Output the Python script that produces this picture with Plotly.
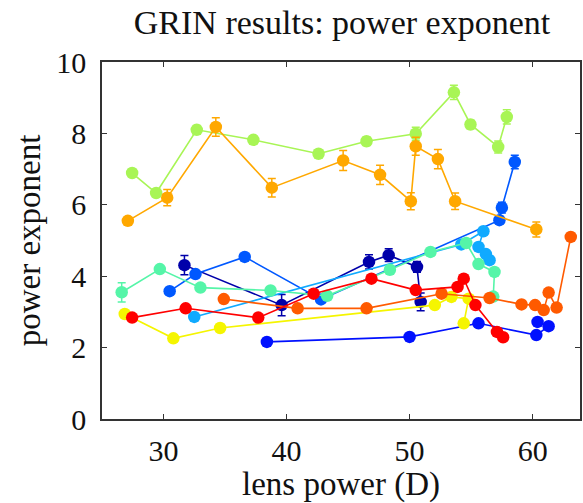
import plotly.graph_objects as go

# ---- data ----
navy_x = [31.7, 39.6, 46.7, 48.3, 50.6, 50.9]
navy_y = [4.31, 3.19, 4.40, 4.59, 4.26, 3.28]
navy_e = [0.27, 0.30, 0.20, 0.18, 0.15, 0.25]

blue_x = [38.4, 50.0, 55.6, 60.3, 61.3, 60.4]
blue_y = [2.16, 2.30, 2.68, 2.35, 2.60, 2.72]
blue_e = [0.08, 0.08, 0.08, 0.08, 0.08, 0.08]

mblue_x = [30.5, 32.6, 36.6, 42.8, 57.3, 57.5, 58.55]
mblue_y = [3.58, 4.06, 4.54, 3.35, 5.57, 5.92, 7.20]
mblue_e = [0.08, 0.08, 0.08, 0.08, 0.10, 0.15, 0.19]

lblue_x = [32.5, 54.2, 56.0, 55.6, 56.2, 56.5]
lblue_y = [2.86, 4.89, 5.26, 4.82, 4.62, 4.45]
lblue_e = [0.08, 0.08, 0.08, 0.08, 0.08, 0.08]

aqua_x = [26.6, 29.7, 33.0, 38.7, 43.3, 48.4, 51.7, 54.6, 55.6, 56.9, 56.8]
aqua_y = [3.55, 4.20, 3.68, 3.60, 3.45, 4.18, 4.68, 4.93, 4.34, 4.12, 3.43]
aqua_e = [0.27, 0.08, 0.08, 0.08, 0.08, 0.08, 0.08, 0.08, 0.08, 0.08, 0.08]

lime_x = [27.45, 29.4, 32.7, 37.3, 42.6, 46.5, 50.5, 53.6, 54.95, 57.2, 57.9]
lime_y = [6.89, 6.33, 8.10, 7.82, 7.43, 7.78, 7.99, 9.15, 8.25, 7.62, 8.46]
lime_e = [0.10, 0.10, 0.12, 0.10, 0.10, 0.12, 0.18, 0.20, 0.12, 0.17, 0.20]

yellow_x = [26.85, 30.8, 34.6, 52.05, 53.4, 54.8, 54.4]
yellow_y = [2.94, 2.26, 2.55, 3.19, 3.42, 3.37, 2.68]
yellow_e = [0.08, 0.08, 0.08, 0.08, 0.08, 0.08, 0.08]

orange_x = [27.1, 30.3, 34.25, 38.8, 44.6, 47.6, 50.1, 50.5, 52.3, 53.7, 60.3]
orange_y = [5.55, 6.20, 8.18, 6.48, 7.24, 6.84, 6.10, 7.64, 7.28, 6.10, 5.31]
orange_e = [0.10, 0.23, 0.26, 0.26, 0.28, 0.27, 0.24, 0.25, 0.27, 0.23, 0.21]

ored_x = [34.9, 40.9, 46.5, 52.6, 56.5, 59.1, 60.2, 60.9, 61.3, 61.95, 63.1]
ored_y = [3.36, 3.10, 3.10, 3.51, 3.39, 3.21, 3.19, 3.05, 3.54, 3.12, 5.10]
ored_e = [0.08, 0.08, 0.08, 0.08, 0.08, 0.08, 0.08, 0.08, 0.08, 0.08, 0.08]

red_x = [27.45, 31.8, 37.7, 42.2, 46.9, 50.5, 53.9, 54.4, 55.35, 57.1, 57.6]
red_y = [2.84, 3.10, 2.84, 3.51, 3.93, 3.61, 3.70, 3.93, 3.19, 2.44, 2.29]
red_e = [0.08, 0.08, 0.08, 0.08, 0.08, 0.08, 0.08, 0.08, 0.08, 0.08, 0.08]

x_ticks = [30, 40, 50, 60]
y_ticks = [0, 2, 4, 6, 8, 10]

series = [
    (navy_x, navy_y, navy_e, "#0000AA"),
    (blue_x, blue_y, blue_e, "#0010FF"),
    (mblue_x, mblue_y, mblue_e, "#0058FF"),
    (lblue_x, lblue_y, lblue_e, "#10AAFF"),
    (aqua_x, aqua_y, aqua_e, "#55F5A8"),
    (lime_x, lime_y, lime_e, "#A8F555"),
    (yellow_x, yellow_y, yellow_e, "#F5F500"),
    (orange_x, orange_y, orange_e, "#FFA800"),
    (ored_x, ored_y, ored_e, "#FF5A00"),
    (red_x, red_y, red_e, "#FF0000"),
]

fig = go.Figure()
for xs, ys, es, col in series:
    fig.add_trace(go.Scatter(
        x=xs, y=ys, mode="lines+markers",
        line=dict(color=col, width=1.6),
        marker=dict(color=col, size=12.5, line=dict(width=0)),
        error_y=dict(type="data", array=es, visible=True, color=col,
                     thickness=1.5, width=4),
        showlegend=False,
    ))

font_family = "Liberation Serif, Times New Roman, serif"
axis_common = dict(
    showline=True, linecolor="#333333", linewidth=1.5, mirror="ticks",
    ticks="inside", ticklen=5, tickwidth=1.2, tickcolor="#333333",
    showgrid=False, zeroline=False,
    tickfont=dict(family=font_family, size=30, color="#111111"),
)

fig.update_layout(
    width=583, height=503,
    margin=dict(l=102, r=1, t=62, b=84),
    paper_bgcolor="white", plot_bgcolor="white",
    title=dict(text="GRIN results: power exponent", x=342 / 583, xanchor="center",
               y=1 - 22 / 503, yanchor="middle",
               font=dict(family=font_family, size=34, color="#111111")),
    xaxis=dict(range=[25, 63.85], tickvals=x_ticks,
               title=dict(text="lens power (D)", standoff=5,
                          font=dict(family=font_family, size=33, color="#111111")),
               ticklabelstandoff=4, **axis_common),
    yaxis=dict(range=[0, 10], tickvals=y_ticks,
               title=dict(text="power exponent", standoff=6,
                          font=dict(family=font_family, size=33, color="#111111")),
               ticklabelstandoff=8, **axis_common),
)

fig.write_html("out.html")
